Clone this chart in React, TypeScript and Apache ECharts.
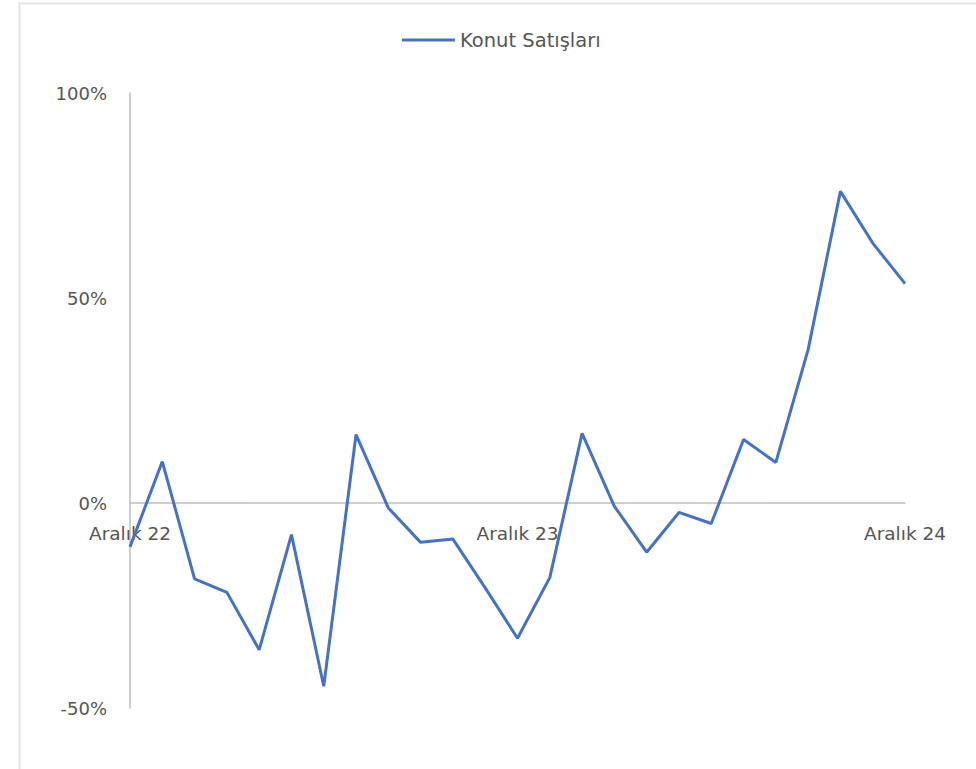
import React, { useEffect, useRef } from "react";
import * as echarts from "echarts";

const categories: string[] = [
  "Aralık 22", "Ocak 23", "Şubat 23", "Mart 23", "Nisan 23", "Mayıs 23", "Haziran 23",
  "Temmuz 23", "Ağustos 23", "Eylül 23", "Ekim 23", "Kasım 23", "Aralık 23",
  "Ocak 24", "Şubat 24", "Mart 24", "Nisan 24", "Mayıs 24", "Haziran 24",
  "Temmuz 24", "Ağustos 24", "Eylül 24", "Ekim 24", "Kasım 24", "Aralık 24",
];

const konutSatislari: number[] = [
  -10.7, 10.1, -18.5, -21.8, -35.8, -7.7, -44.7, 16.7, -1.2, -9.6, -8.8, -20.7, -33.0,
  -18.2, 17.0, -0.8, -12.0, -2.3, -5.0, 15.5, 9.9, 37.4, 76.0, 63.4, 53.5,
];

const seriesName = "Konut Satışları";
const yMin = -50;
const yMax = 100;
const yInterval = 50;

const FONT = "DejaVu Sans";
const TEXT_COLOR = "#555555";
const AXIS_COLOR = "#bfbfbf";
const LINE_COLOR = "#4472C4";

export default function App() {
  const ref = useRef<HTMLDivElement>(null);

  useEffect(() => {
    if (!ref.current) return;
    const chart = echarts.init(ref.current, undefined, { renderer: "svg" });
    chart.setOption({
      animation: false,
      backgroundColor: "#ffffff",
      graphic: [
        {
          type: "rect",
          shape: { x: 19.5, y: 3.5, width: 1000, height: 800 },
          style: { fill: "none", stroke: "#e3e3e3", lineWidth: 2 },
          silent: true,
        },
      ],
      legend: {
        data: [{ name: seriesName, icon: "rect" }],
        left: 397,
        top: 25,
        itemWidth: 53,
        itemHeight: 3,
        itemGap: 10,
        textStyle: { fontFamily: FONT, fontSize: 19.5, color: TEXT_COLOR },
      },
      grid: { left: 130, right: 71, top: 93, bottom: 61, containLabel: false },
      xAxis: {
        type: "category",
        data: categories,
        boundaryGap: false,
        axisLine: { onZero: true, lineStyle: { color: AXIS_COLOR, width: 1.5 } },
        axisTick: { show: false },
        splitLine: { show: false },
        axisLabel: {
          interval: 11,
          margin: -184,
          fontFamily: FONT,
          fontSize: 18.5,
          color: TEXT_COLOR,
        },
      },
      yAxis: {
        type: "value",
        min: yMin,
        max: yMax,
        interval: yInterval,
        axisLine: { show: true, lineStyle: { color: AXIS_COLOR, width: 1.5 } },
        axisTick: { show: false },
        splitLine: { show: false },
        axisLabel: {
          margin: 23,
          fontFamily: FONT,
          fontSize: 18,
          color: TEXT_COLOR,
          formatter: (v: number) => `${v}%`,
        },
      },
      series: [
        {
          name: seriesName,
          type: "line",
          data: konutSatislari,
          symbol: "none",
          lineStyle: { color: LINE_COLOR, width: 3 },
          itemStyle: { color: LINE_COLOR },
        },
      ],
    });
    return () => chart.dispose();
  }, []);

  return (
    <div
      ref={ref}
      style={{ position: "absolute", left: 0, top: 0, width: 976, height: 769 }}
    />
  );
}
